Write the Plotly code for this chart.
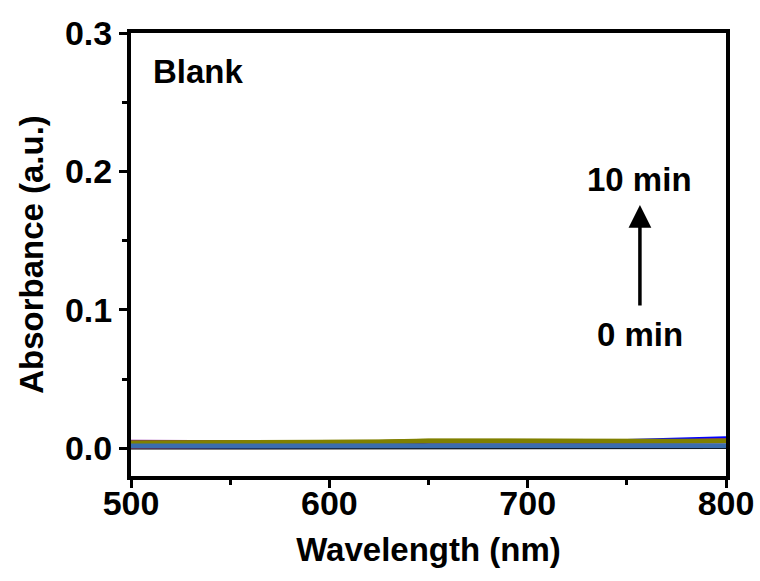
import plotly.graph_objects as go

# Wavelength grid (nm)
wavelength = [500, 525, 550, 575, 600, 625, 650, 675, 700, 725, 750, 775, 800]

# Absorbance spectra recorded every minute (0-10 min) for the blank sample
abs_0min = [0.0000, 0.0000, 0.0001, 0.0001, 0.0002, 0.0002, 0.0003, 0.0003, 0.0003, 0.0002, 0.0002, 0.0003, 0.0004]
abs_1min = [0.0030, 0.0031, 0.0033, 0.0035, 0.0037, 0.0039, 0.0050, 0.0046, 0.0043, 0.0041, 0.0042, 0.0043, 0.0045]
abs_2min = [0.0036, 0.0037, 0.0039, 0.0041, 0.0044, 0.0047, 0.0052, 0.0050, 0.0050, 0.0052, 0.0058, 0.0068, 0.0078]
abs_3min = [0.0046, 0.0045, 0.0045, 0.0046, 0.0047, 0.0049, 0.0056, 0.0053, 0.0051, 0.0050, 0.0052, 0.0056, 0.0062]
abs_4min = [0.0052, 0.0050, 0.0049, 0.0049, 0.0050, 0.0051, 0.0056, 0.0054, 0.0052, 0.0051, 0.0053, 0.0057, 0.0063]
abs_5min = [0.0008, 0.0009, 0.0010, 0.0012, 0.0013, 0.0014, 0.0016, 0.0017, 0.0016, 0.0015, 0.0016, 0.0018, 0.0020]
abs_6min = [0.0048, 0.0047, 0.0047, 0.0048, 0.0049, 0.0050, 0.0055, 0.0053, 0.0051, 0.0050, 0.0052, 0.0055, 0.0060]
abs_7min = [0.0003, 0.0005, 0.0008, 0.0012, 0.0018, 0.0025, 0.0040, 0.0042, 0.0043, 0.0043, 0.0044, 0.0045, 0.0046]
abs_8min = [0.0038, 0.0039, 0.0040, 0.0042, 0.0044, 0.0046, 0.0053, 0.0052, 0.0049, 0.0047, 0.0048, 0.0050, 0.0053]
abs_9min = [0.0040, 0.0041, 0.0042, 0.0044, 0.0046, 0.0048, 0.0055, 0.0054, 0.0051, 0.0049, 0.0050, 0.0052, 0.0055]
abs_10min = [0.0017, 0.0017, 0.0017, 0.0017, 0.0018, 0.0018, 0.0019, 0.0019, 0.0018, 0.0017, 0.0017, 0.0018, 0.0018]

series = [abs_0min, abs_1min, abs_2min, abs_3min, abs_4min, abs_5min,
          abs_6min, abs_7min, abs_8min, abs_9min, abs_10min]
colors = ["#000000", "#FF0000", "#0000FF", "#FF00FF", "#8000A0", "#000080",
          "#800080", "#800000", "#808000", "#808000", "#3A6DAE"]
widths = [2.5, 2.5, 2.5, 2.5, 2.5, 3, 2.5, 2, 4.5, 4.5, 5]

x_ticks = [500, 600, 700, 800]
y_ticks = [0.0, 0.1, 0.2, 0.3]
y_tick_labels = ["0.0", "0.1", "0.2", "0.3"]

FONT = "Liberation Sans, Arial, sans-serif"

fig = go.Figure()
for i, (vals, col, w) in enumerate(zip(series, colors, widths)):
    fig.add_trace(go.Scatter(
        x=wavelength, y=vals, mode="lines",
        line=dict(color=col, width=w),
        name=f"{i} min", showlegend=False,
    ))

axis_common = dict(
    showline=True, linecolor="black", linewidth=4, mirror=True,
    showgrid=False, zeroline=False, automargin=False,
    ticks="outside", ticklen=8, tickwidth=3, tickcolor="black",
    tickfont=dict(family=FONT, size=34, color="black", weight="bold"),
    minor=dict(ticks="outside", ticklen=5, tickwidth=2.5, tickcolor="black"),
)

fig.update_xaxes(
    range=[500, 800], tickvals=x_ticks,
    minor_dtick=50,
    ticklabelstandoff=-14,
    title=dict(text="Wavelength (nm)", standoff=18,
               font=dict(family=FONT, size=33, color="black", weight="bold")),
    **axis_common,
)
fig.update_yaxes(
    range=[-0.02, 0.3], tickvals=y_ticks, ticktext=y_tick_labels,
    minor_dtick=0.05, minor_tick0=0,
    title=dict(text="Absorbance (a.u.)", standoff=12,
               font=dict(family=FONT, size=33, color="black", weight="bold")),
    **axis_common,
)

ann_font = dict(family=FONT, size=33, color="black", weight="bold")
fig.add_annotation(x=510, y=0.272, xref="x", yref="y", text="Blank",
                   showarrow=False, xanchor="left", yanchor="middle", font=ann_font)
fig.add_annotation(x=756.6, y=0.194, xref="x", yref="y", text="10 min",
                   showarrow=False, xanchor="center", yanchor="middle", font=ann_font)
fig.add_annotation(x=756.6, y=0.082, xref="x", yref="y", text="0 min",
                   showarrow=False, xanchor="center", yanchor="middle", font=ann_font)
# growth arrow from 0 min to 10 min
fig.add_annotation(x=756.6, y=0.1758, ax=756.6, ay=0.1021,
                   xref="x", yref="y", axref="x", ayref="y",
                   text="", showarrow=True, arrowhead=2, arrowsize=1.3,
                   arrowwidth=3.5, arrowcolor="black")

fig.update_layout(
    width=760, height=581,
    margin=dict(l=131, r=34, t=33, b=105),
    paper_bgcolor="white", plot_bgcolor="white",
)

fig.write_html("out.html")
